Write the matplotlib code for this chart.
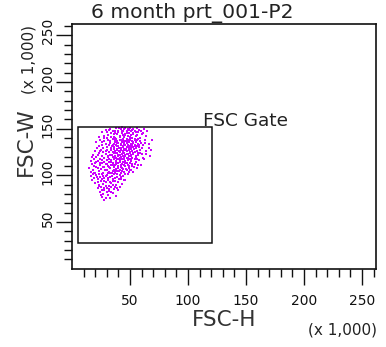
import matplotlib
matplotlib.use("Agg")
import matplotlib.pyplot as plt
from matplotlib.patches import Rectangle
from matplotlib.transforms import ScaledTranslation

title = "6 month prt_001-P2"
x_label = "FSC-H"
y_label = "FSC-W"
scale_label = "(x 1,000)"
gate_name = "FSC Gate"

axis_max = 262.144          # thousands
major_ticks = [50, 100, 150, 200, 250]
minor_ticks = list(range(10, 270, 10))

# gate rectangle (thousands): FSC-H from..to, FSC-W from..to
gate_h = [5.2, 121.0]
gate_w = [28.0, 152.0]

# events (FSC-H, FSC-W) in thousands
events = [
    (26,146),(29,149),(31,143),(33,150),(34,145),(36,141),(37,148),(38,151),(39,144),(40,147),
    (41,142),(42,150),(43,145),(44,148),(45,141),(46,151),(46,144),(47,147),(48,142),(49,149),
    (49,145),(50,151),(51,143),(51,147),(52,140),(53,150),(53,145),(54,148),(55,142),(56,151),
    (57,146),(58,149),(60,144),(62,150),(65,147),(30,140),(35,147),(28,142),(44,143),(48,150),
    (21,136),(23,131),(24,138),(26,133),(27,129),(28,137),(29,134),(30,130),(31,138),(32,132),
    (33,135),(34,129),(35,139),(35,133),(36,130),(37,136),(38,132),(38,139),(39,128),(40,135),
    (40,131),(41,138),(42,133),(42,129),(43,136),(44,131),(44,139),(45,134),(45,128),(46,137),
    (46,132),(47,130),(47,135),(48,138),(48,133),(49,129),(49,136),(50,131),(50,139),(51,134),
    (51,128),(52,137),(52,132),(53,130),(53,135),(54,138),(54,133),(55,129),(55,136),(56,131),
    (57,139),(57,134),(58,130),(59,137),(61,132),(63,135),(66,129),(69,138),(36,134),(43,138),
    (39,137),(47,139),
    (18,122),(19,117),(20,126),(21,120),(22,115),(23,124),(24,118),(25,127),(26,121),(26,116),
    (27,125),(28,119),(29,123),(30,116),(30,127),(31,121),(32,125),(32,118),(33,122),(34,116),
    (34,127),(35,120),(36,124),(36,117),(37,126),(37,121),(38,119),(38,115),(39,124),(39,127),
    (40,118),(40,122),(41,125),(41,116),(42,120),(42,127),(43,123),(43,117),(44,126),(44,121),
    (45,118),(45,124),(46,115),(46,122),(47,126),(47,119),(48,123),(48,116),(49,121),(49,127),
    (50,118),(50,124),(51,116),(51,122),(52,126),(52,119),(53,123),(54,117),(54,125),(55,121),
    (56,118),(56,126),(57,122),(58,116),(59,124),(61,119),(64,126),(67,121),(35,125),(41,119),
    (45,127),(49,117),
    (15,108),(16,104),(17,112),(18,106),(19,110),(20,103),(21,114),(22,108),(23,105),(24,111),
    (25,107),(26,113),(27,103),(28,109),(29,112),(30,106),(31,110),(32,104),(32,114),(33,108),
    (34,111),(35,105),(35,113),(36,109),(37,103),(37,111),(38,107),(38,114),(39,105),(40,110),
    (40,113),(41,106),(42,109),(42,103),(43,112),(44,107),(44,114),(45,104),(46,110),(46,113),
    (47,106),(48,111),(49,104),(49,108),(50,113),(51,106),(52,110),(53,104),(54,112),(56,108),
    (31,102),(36,106),(43,105),(28,114),
    (16,99),(17,95),(18,101),(19,97),(20,92),(21,100),(22,96),(23,90),(24,98),(25,94),
    (26,101),(27,91),(28,97),(29,93),(30,100),(31,95),(32,89),(33,98),(34,92),(35,96),
    (36,101),(37,94),(38,90),(39,98),(40,93),(41,100),(42,96),(43,91),(44,99),(46,95),
    (48,101),(33,102),(27,99),
    (22,86),(24,82),(25,87),(27,80),(28,84),(29,76),(30,86),(31,79),(32,83),(34,87),
    (35,81),(36,85),(38,78),(40,84),(26,77),(28,74),(33,76),(37,88),(41,88),
    (33.5,141.5),(35.8,144.2),(37.4,139.6),(39.7,146.3),(41.6,140.8),(43.3,147.7),(45.5,143.6),
    (47.8,145.9),(50.2,141.1),(52.4,144.7),(54.6,139.3),(56.3,143.2),(58.7,140.4),(40.4,150.3),
    (44.8,149.6),(51.7,148.8),(55.2,146.7),(59.4,147.9),(42.9,152.0),(37.2,145.5),
    (32.6,136.4),(34.7,131.7),(36.9,137.8),(38.5,134.6),(40.8,129.4),(41.9,133.8),(43.7,130.2),
    (45.1,136.3),(46.8,128.6),(48.4,131.6),(49.6,137.4),(51.3,130.4),(52.8,135.2),(54.2,131.2),
    (55.9,137.5),(57.6,132.6),(59.2,134.3),(60.6,129.2),(62.8,138.1),(44.5,134.5),(47.3,137.2),
    (50.8,133.3),(39.2,131.2),(53.6,128.2),
    (29.6,125.6),(31.4,119.3),(33.2,126.8),(34.6,121.5),(35.8,118.4),(37.7,123.7),(38.9,117.3),
    (40.3,125.8),(41.4,121.8),(42.6,118.7),(43.8,125.1),(44.9,119.6),(46.2,127.4),(47.4,122.6),
    (48.7,118.3),(49.8,125.3),(51.2,120.2),(52.5,123.8),(53.7,127.8),(55.3,119.4),(56.8,123.9),
    (58.4,127.2),(60.3,122.7),(62.5,117.6),(36.4,127.9),(45.7,121.1),(50.6,115.8),(39.5,120.9),
    (24.5,113.6),(26.7,109.3),(28.8,106.2),(30.4,111.7),(32.3,108.6),(33.8,113.8),(35.2,110.6),
    (36.7,104.3),(38.2,112.2),(39.4,108.4),(40.9,104.6),(42.3,111.4),(43.4,108.2),(44.7,110.9),
    (46.6,106.8),(47.6,113.5),(48.8,109.6),(50.4,106.1),(51.6,111.8),(53.3,108.7),(55.1,114.3),
    (57.2,111.3),(34.3,102.8),(41.7,114.6),
    (19.4,102.1),(21.6,97.8),(23.5,101.3),(25.7,96.4),(27.4,93.6),(29.3,99.2),(30.8,96.7),
    (32.7,93.4),(34.1,99.6),(35.6,94.3),(37.1,97.5),(38.6,101.6),(40.4,96.2),(42.2,98.7),
    (44.6,94.8),(22.8,93.2),(45.3,101.4),
    (23.3,88.4),(26.2,84.7),(29.4,88.9),(31.7,85.3),(33.6,81.7),(35.4,89.3),(38.8,86.2),
    (24.8,78.6),(30.6,82.4),(27.9,86.8),
    (17.3,119.4),(19.8,113.3),(16.4,115.6),(20.6,109.1),(22.4,121.6),(24.2,125.9),(21.5,129.3),
    (25.8,135.4),(23.7,141.2),(27.6,139.7),(30.3,146.9),(32.1,148.6),(64.2,141.8),(66.7,133.4),
    (63.4,123.2),(59.8,111.6),(68.3,127.6),(61.5,145.3),
]
fsc_h = [e[0] for e in events]
fsc_w = [e[1] for e in events]

W, H = 386, 347
fig = plt.figure(figsize=(W / 100, H / 100), dpi=100)
ax = fig.add_axes([72 / W, (H - 268.7) / H, 304 / W, 244.7 / H])

ax.scatter(fsc_h, fsc_w, s=3.8, marker="s", c="#cc00ff", linewidths=0, zorder=2)

ax.add_patch(Rectangle((gate_h[0], gate_w[0]), gate_h[1] - gate_h[0], gate_w[1] - gate_w[0],
                       fill=False, edgecolor="#111111", linewidth=1.1, zorder=3))
ax.text(gate_h[1] - 8.3, gate_w[1] + 0.5, gate_name, ha="left", va="baseline",
        fontsize=13.3, family="DejaVu Sans", color="#222222")

ax.set_xlim(0, axis_max)
ax.set_ylim(0, axis_max)
ax.set_xticks(major_ticks)
ax.set_yticks(major_ticks)
ax.set_xticks(minor_ticks, minor=True)
ax.set_yticks(minor_ticks, minor=True)
ax.set_xticklabels([str(t) for t in major_ticks])
ax.set_yticklabels([str(t) for t in major_ticks], rotation=90, va="center")
ax.tick_params(which="major", length=11.5, width=1.0, direction="out", labelsize=10,
               colors="#111111", pad=7)
ax.tick_params(which="minor", length=5.8, width=1.0, direction="out", colors="#111111")
ax.tick_params(axis="y", which="major", pad=1)
for lab in ax.get_yticklabels():
    lab.set_transform(lab.get_transform() + ScaledTranslation(0, 4 / 100, fig.dpi_scale_trans))
for sp in ax.spines.values():
    sp.set_linewidth(1.2)
    sp.set_color("#111111")

fig.text(192 / W, (H - 13) / H, title, ha="center", va="center", fontsize=14.6, color="#222222")
fig.text(224 / W, (H - 320) / H, x_label, ha="center", va="center", fontsize=15.5, color="#333333")
fig.text(377 / W, (H - 330) / H, scale_label, ha="right", va="center", fontsize=11, color="#222222")
fig.text(26 / W, (H - 176) / H, y_label, ha="center", va="bottom", rotation=90,
         fontsize=15.5, color="#333333")
fig.text(29 / W, (H - 25) / H, scale_label, ha="center", va="top", rotation=90,
         fontsize=11, color="#222222")

fig.savefig("out.png", dpi=100)
